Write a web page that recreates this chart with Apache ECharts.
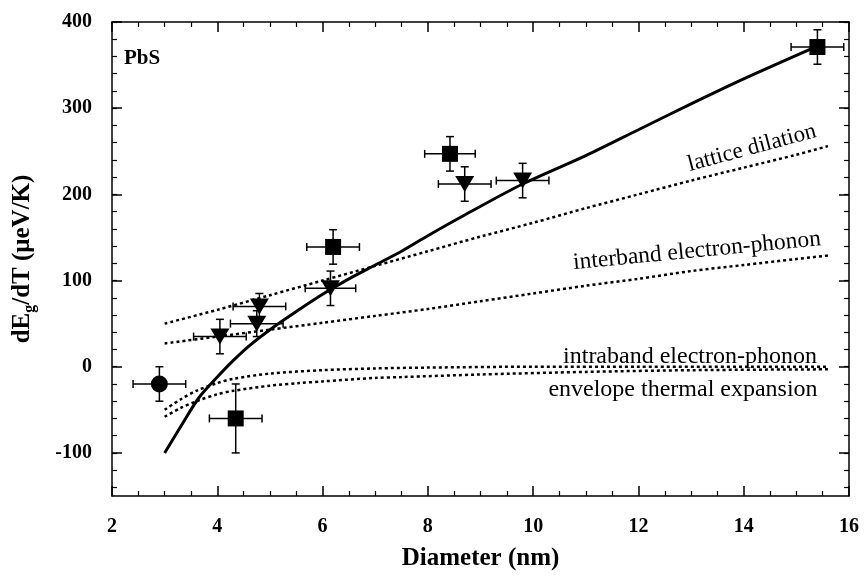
<!DOCTYPE html>
<html><head><meta charset="utf-8">
<script src="https://cdn.jsdelivr.net/npm/echarts@6/dist/echarts.min.js"></script>
<style>html,body{margin:0;padding:0;background:#fff}#c{width:864px;height:576px}</style>
</head><body><div id="c"></div>
<script>
// ---- data ----
const xTicks = [2, 4, 6, 8, 10, 12, 14, 16];
const yMajor = [-100, 0, 100, 200, 300, 400];
const yMinor = [-140, -120, -100, -80, -60, -40, -20, 0, 20, 40, 60, 80, 100, 120, 140, 160, 180, 200, 220, 240, 260, 280, 300, 320, 340, 360, 380, 400];
// [diameter, dEg/dT, xErr, yErr]
const circles = [[2.9, -20, 0.5, 20]];
const squares = [[4.35, -60, 0.5, 40], [6.2, 139, 0.5, 20], [8.42, 247, 0.48, 20], [15.4, 371, 0.5, 20]];
const triangles = [[4.05, 35, 0.5, 20], [4.75, 50, 0.5, 15], [4.8, 70, 0.5, 15], [6.15, 91, 0.48, 20], [8.7, 212, 0.5, 20], [9.8, 216, 0.5, 20]];
const totalFit = [[3, -100], [3.3, -70], [3.65, -36], [4, -12], [4.3, 7], [4.6, 24], [5, 43], [5.5, 64], [6, 84], [6.5, 102], [7, 118], [7.5, 134], [8, 152], [8.7, 176], [9.8, 212], [11, 245], [12, 275], [13, 305], [14, 334], [15.4, 372]];
const lattice = [[3, 50], [4, 66], [5, 83], [6, 100], [7, 117], [8, 134], [9, 151], [10, 167], [11, 184], [12, 200], [13, 216], [14, 231], [15, 246], [15.6, 256]];
const interband = [[3, 27], [4, 35], [5, 43], [6, 51], [7, 59], [8, 67], [9, 76], [10, 85], [11, 94], [12, 102], [13, 111], [14, 118], [15, 125], [15.6, 129]];
const intraband = [[3, -50], [3.3, -38], [3.6, -28], [4, -19], [4.3, -14], [5, -8], [6, -4], [7, -2], [8, -1], [10, 0], [12, 0], [15.6, 0]];
const envelope = [[3, -58], [3.3, -48], [3.65, -39], [4, -32], [4.3, -28], [5, -22], [5.56, -19], [6, -17], [7, -13], [7.5, -12], [9, -9], [11, -6], [13, -4], [15.6, -3]];

const serif = '"Liberation Serif", "DejaVu Serif", serif';
const chart = echarts.init(document.getElementById('c'));

function errRender(params, api) {
  const x = api.value(0), y = api.value(1), ex = api.value(2), ey = api.value(3);
  const l = api.coord([x - ex, y]), r = api.coord([x + ex, y]);
  const t = api.coord([x, y + ey]), b = api.coord([x, y - ey]);
  const cap = 4;
  const st = {stroke: '#000', lineWidth: 1.5};
  return {type: 'group', children: [
    {type: 'line', shape: {x1: l[0], y1: l[1], x2: r[0], y2: r[1]}, style: st},
    {type: 'line', shape: {x1: t[0], y1: t[1], x2: b[0], y2: b[1]}, style: st},
    {type: 'line', shape: {x1: l[0], y1: l[1] - cap, x2: l[0], y2: l[1] + cap}, style: st},
    {type: 'line', shape: {x1: r[0], y1: r[1] - cap, x2: r[0], y2: r[1] + cap}, style: st},
    {type: 'line', shape: {x1: t[0] - cap, y1: t[1], x2: t[0] + cap, y2: t[1]}, style: st},
    {type: 'line', shape: {x1: b[0] - cap, y1: b[1], x2: b[0] + cap, y2: b[1]}, style: st}
  ]};
}

const axLine = {show: true, onZero: false, lineStyle: {color: '#000', width: 1.5}};
const noLine = {show: false, onZero: false};
const dotted = {color: '#000', width: 2.5, type: [3, 3]};

const xBase = {type: 'value', min: 2, max: 16, interval: 2, splitLine: {show: false}, axisLine: axLine};
const yBase = {type: 'value', min: -150, max: 400, splitLine: {show: false}};
const majT = {color: '#000', width: 1.5};
const minT = {color: '#000', width: 1.2};

chart.setOption({
  animation: false,
  grid: {left: 112, right: 15, top: 22, bottom: 71, containLabel: false},
  xAxis: [
    Object.assign({}, xBase, {position: 'bottom',
      axisTick: {inside: true, length: 10, lineStyle: majT},
      minorTick: {show: true, splitNumber: 4, length: 5, lineStyle: minT},
      axisLabel: {margin: 21, color: '#000', fontFamily: serif, fontWeight: 'bold', fontSize: 20, customValues: xTicks},
      name: 'Diameter (nm)', nameLocation: 'middle', nameGap: 50,
      nameTextStyle: {color: '#000', fontFamily: serif, fontWeight: 'bold', fontSize: 25}}),
    Object.assign({}, xBase, {position: 'top',
      axisTick: {inside: true, length: 10, lineStyle: majT},
      minorTick: {show: true, splitNumber: 4, length: 5, lineStyle: minT},
      axisLabel: {show: false}})
  ],
  yAxis: [
    Object.assign({}, yBase, {position: 'left', axisLine: axLine,
      axisTick: {inside: true, length: 10, customValues: yMajor, lineStyle: majT},
      axisLabel: {margin: 20, customValues: yMajor, color: '#000', fontFamily: serif, fontWeight: 'bold', fontSize: 20},
      name: '{a|dE}{s|g}{a|/dT (μeV/K)}', nameLocation: 'middle', nameGap: 74, nameRotate: 90,
      nameTextStyle: {color: '#000', fontFamily: serif, fontWeight: 'bold', fontSize: 25,
        rich: {a: {fontFamily: serif, fontWeight: 'bold', fontSize: 25, color: '#000'},
               s: {fontFamily: serif, fontWeight: 'bold', fontSize: 16, color: '#000', padding: [14, 0, 0, 0]}}}}),
    Object.assign({}, yBase, {position: 'left', axisLine: noLine,
      axisTick: {inside: true, length: 5, customValues: yMinor, lineStyle: minT},
      axisLabel: {show: false}}),
    Object.assign({}, yBase, {position: 'right', axisLine: axLine,
      axisTick: {inside: true, length: 10, customValues: yMajor, lineStyle: majT},
      axisLabel: {show: false}}),
    Object.assign({}, yBase, {position: 'right', axisLine: noLine,
      axisTick: {inside: true, length: 5, customValues: yMinor, lineStyle: minT},
      axisLabel: {show: false}})
  ],
  series: [
    {type: 'line', data: lattice, smooth: 0.3, symbol: 'none', lineStyle: dotted},
    {type: 'line', data: interband, smooth: 0.3, symbol: 'none', lineStyle: dotted},
    {type: 'line', data: intraband, smooth: 0.3, symbol: 'none', lineStyle: dotted},
    {type: 'line', data: envelope, smooth: 0.3, symbol: 'none', lineStyle: dotted},
    {type: 'line', data: totalFit, smooth: 0.3, symbol: 'none', lineStyle: {color: '#000', width: 3}},
    {type: 'custom', data: circles.concat(squares, triangles), renderItem: errRender, z: 5},
    {type: 'scatter', data: circles.map(d => [d[0], d[1]]), symbol: 'circle', symbolSize: 17, itemStyle: {color: '#000', opacity: 1}, z: 6},
    {type: 'scatter', data: squares.map(d => [d[0], d[1]]), symbol: 'rect', symbolSize: 16, itemStyle: {color: '#000', opacity: 1}, z: 6},
    {type: 'scatter', data: triangles.map(d => [d[0], d[1]]), symbol: 'triangle', symbolRotate: 180, symbolSize: [19, 16], itemStyle: {color: '#000', opacity: 1}, z: 6}
  ],
  graphic: [
    {type: 'text', left: 124, top: 48, style: {text: 'PbS', font: 'bold 21px ' + serif, fill: '#000'}},
    {type: 'text', x: 752, y: 148, rotation: 15 * Math.PI / 180, style: {text: 'lattice dilation', font: '23px ' + serif, fill: '#000', align: 'center', verticalAlign: 'middle'}},
    {type: 'text', x: 697, y: 251, rotation: 5.5 * Math.PI / 180, style: {text: 'interband electron-phonon', font: '23.5px ' + serif, fill: '#000', align: 'center', verticalAlign: 'middle'}},
    {type: 'text', x: 690, y: 357, style: {text: 'intraband electron-phonon', font: '24px ' + serif, fill: '#000', align: 'center', verticalAlign: 'middle'}},
    {type: 'text', x: 683, y: 390, style: {text: 'envelope thermal expansion', font: '24px ' + serif, fill: '#000', align: 'center', verticalAlign: 'middle'}}
  ]
});
</script></body></html>
